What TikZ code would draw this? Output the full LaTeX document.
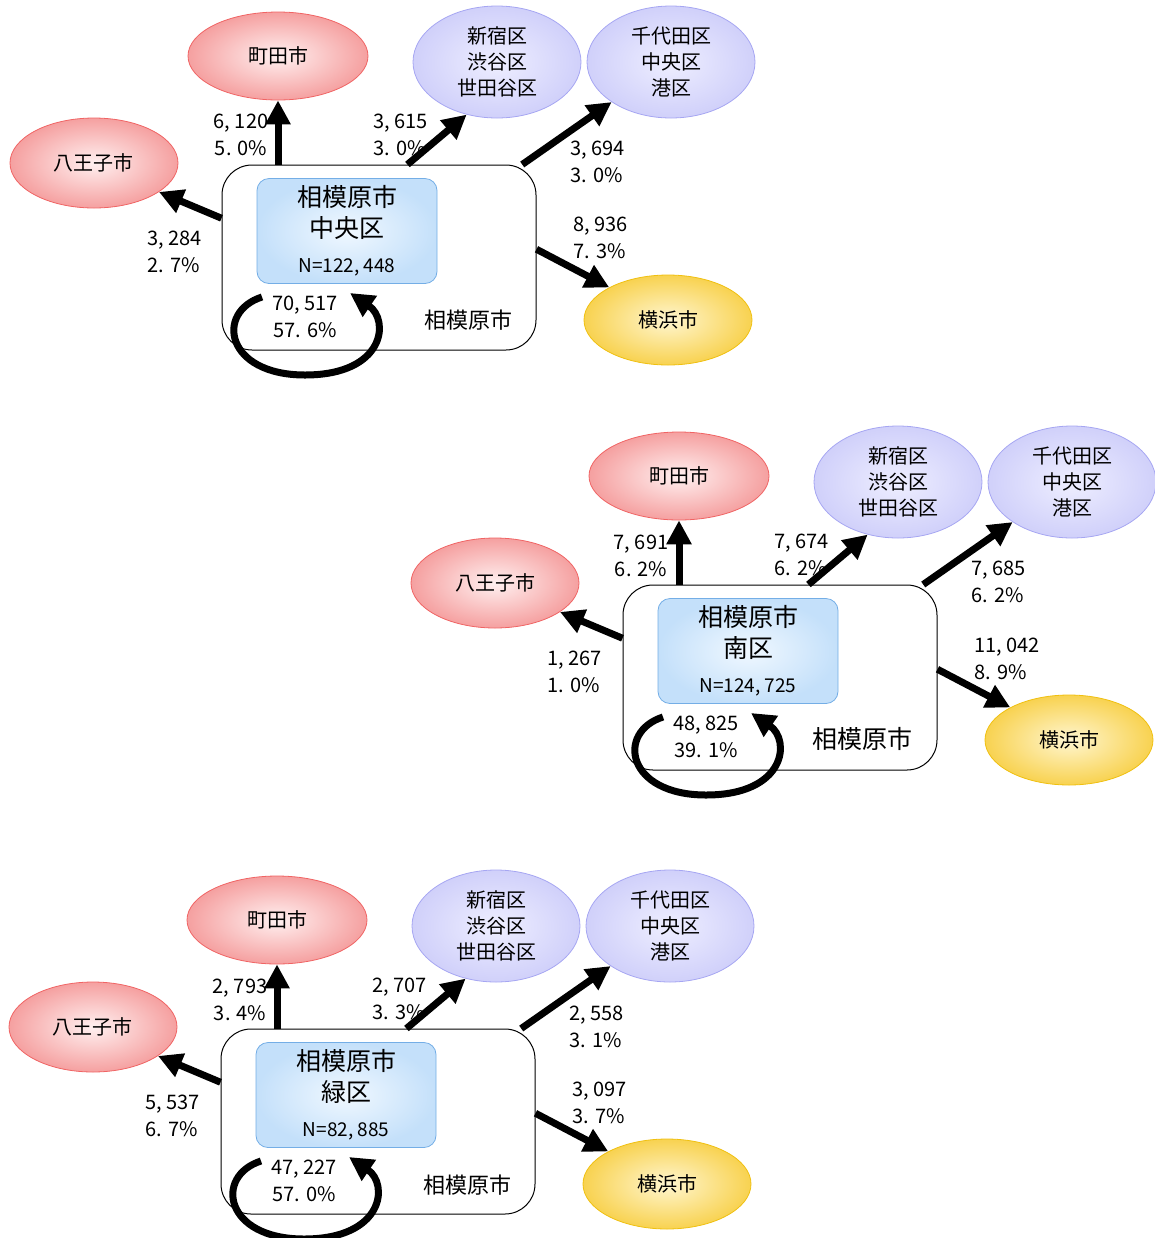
\documentclass[tikz,border=0pt]{standalone}
\usepackage{fontspec}
\setmainfont{Noto Sans CJK JP}
\usetikzlibrary{shapes.geometric,arrows.meta}
\newcommand{\px}{0.5pt}
\definecolor{redfill}{HTML}{F5A0A0}
\definecolor{redcore}{HTML}{FFF0F0}
\definecolor{redline}{HTML}{F06464}
\definecolor{bluefill}{HTML}{D0D0FA}
\definecolor{bluecore}{HTML}{EEEEFF}
\definecolor{blueline}{HTML}{A6A6F2}
\definecolor{yellowfill}{HTML}{F8D250}
\definecolor{yellowcore}{HTML}{FFF6D0}
\definecolor{yellowline}{HTML}{F0C010}
\definecolor{wardfill}{HTML}{C4E0FA}
\definecolor{wardcore}{HTML}{F0F8FF}
\definecolor{wardline}{HTML}{74AEE6}

\begin{document}
\begin{tikzpicture}[x=\px,y=-\px]
\useasboundingbox (0,0) rectangle (1155,1238);
\tikzstyle{redcity}=[ellipse, draw=redline, inner color=redcore, outer color=redfill,
                     minimum width=90pt, minimum height=44pt, inner sep=0pt,
                     font=\fontsize{10}{13}\selectfont]
\tikzstyle{tokyo}=[ellipse, draw=blueline, inner color=bluecore, outer color=bluefill,
                   minimum width=84pt, minimum height=56pt, inner sep=0pt, align=center,
                   font=\fontsize{10}{13}\selectfont]
\tikzstyle{yokocity}=[ellipse, draw=yellowline, inner color=yellowcore, outer color=yellowfill,
                      minimum width=84pt, minimum height=45pt, inner sep=0pt,
                      font=\fontsize{10}{13}\selectfont]
\tikzstyle{townbox}=[draw, rounded corners=15pt, minimum width=157pt, minimum height=92.5pt,
                     line width=0.5pt]
\tikzstyle{wardbox}=[draw=wardline, inner color=wardcore, outer color=wardfill,
                     rounded corners=6pt, minimum width=90pt, minimum height=52.5pt,
                     inner sep=0pt, align=center, font=\fontsize{12.5}{15.5}\selectfont]
\tikzstyle{townlabel}=[font=\fontsize{11}{13}\selectfont, inner sep=0pt]
\tikzstyle{numlabel}=[font=\fontsize{10}{13.5}\selectfont, align=left, anchor=west, inner sep=0pt]
\tikzstyle{uplabel}=[font=\fontsize{10}{13.5}\selectfont, align=center, inner sep=0pt]
\tikzstyle{flow}=[line width=3.5pt, -{Triangle[length=12pt,width=12pt]}]

% 中央区
\begin{scope}
\node[townbox] (outerA) at (379,257.5) {};
\node[wardbox] (wardA) at (347,231) {相模原市\\中央区\\[2pt]\fontsize{9.5}{12}\selectfont N=122, 448};
\node[townlabel] (townA) at (468,320) {相模原市};
\node[redcity] (machidaA) at (278,56) {町田市};
\node[redcity, minimum width=84pt, minimum height=45pt] (hachiojiA) at (94,163) {八王子市};
\node[tokyo] (shinjukuA) at (497,62) {新宿区\\渋谷区\\世田谷区};
\node[tokyo] (chiyodaA) at (671,62) {千代田区\\中央区\\港区};
\node[yokocity] (yokohamaA) at (668,320) {横浜市};
\coordinate (loopinA) at (262,297);
\coordinate (loopoutA) at (350,293);
\draw[flow] (outerA.north -| machidaA) -- (machidaA.south);
\draw[flow] (outerA.73) -- (shinjukuA.240);
\draw[flow] (outerA.33) -- (chiyodaA.214);
\draw[flow] (outerA.166) -- (hachiojiA.-24);
\draw[flow] (outerA.3) -- (yokohamaA.151);
\draw[flow] (loopinA) .. controls (215,312) and (225,375) .. (305,375)
                      .. controls (385,375) and (390,320) .. (loopoutA);
\node[uplabel] (machidanumA) at (241,134.5) {6, 120\\5. 0\%};
\node[numlabel] (shinjukunumA) at (373,134.5) {3, 615\\3. 0\%};
\node[numlabel] (chiyodanumA) at (570,161.5) {3, 694\\3. 0\%};
\node[numlabel] (hachiojinumA) at (147,251.5) {3, 284\\2. 7\%};
\node[numlabel] (yokohamanumA) at (573,238) {8, 936\\7. 3\%};
\node[uplabel] (loopnumA) at (305,316.5) {70, 517\\57. 6\%};
\end{scope}

% 南区
\begin{scope}[shift={(401,420)}]
\node[townbox] (outerB) at (379,257.5) {};
\node[wardbox] (wardB) at (347,231) {相模原市\\南区\\[2pt]\fontsize{9.5}{12}\selectfont N=124, 725};
\node[townlabel, font=\fontsize{12.5}{15}\selectfont] (townB) at (461,319) {相模原市};
\node[redcity] (machidaB) at (278,56) {町田市};
\node[redcity, minimum width=84pt, minimum height=45pt] (hachiojiB) at (94,163) {八王子市};
\node[tokyo] (shinjukuB) at (497,62) {新宿区\\渋谷区\\世田谷区};
\node[tokyo] (chiyodaB) at (671,62) {千代田区\\中央区\\港区};
\node[yokocity] (yokohamaB) at (668,320) {横浜市};
\coordinate (loopinB) at (262,297);
\coordinate (loopoutB) at (350,293);
\draw[flow] (outerB.north -| machidaB) -- (machidaB.south);
\draw[flow] (outerB.73) -- (shinjukuB.240);
\draw[flow] (outerB.33) -- (chiyodaB.214);
\draw[flow] (outerB.166) -- (hachiojiB.-24);
\draw[flow] (outerB.3) -- (yokohamaB.151);
\draw[flow] (loopinB) .. controls (215,312) and (225,375) .. (305,375)
                      .. controls (385,375) and (390,320) .. (loopoutB);
\node[uplabel] (machidanumB) at (240,135.5) {7, 691\\6. 2\%};
\node[numlabel] (shinjukunumB) at (373,135) {7, 674\\6. 2\%};
\node[numlabel] (chiyodanumB) at (570,162) {7, 685\\6. 2\%};
\node[numlabel] (hachiojinumB) at (146,252) {1, 267\\1. 0\%};
\node[numlabel] (yokohamanumB) at (573,238.5) {11, 042\\8. 9\%};
\node[uplabel] (loopnumB) at (305,316.5) {48, 825\\39. 1\%};
\end{scope}

% 緑区
\begin{scope}[shift={(-1,864)}]
\node[townbox] (outerC) at (379,257.5) {};
\node[wardbox] (wardC) at (347,231) {相模原市\\緑区\\[2pt]\fontsize{9.5}{12}\selectfont N=82, 885};
\node[townlabel] (townC) at (468,321) {相模原市};
\node[redcity] (machidaC) at (278,56) {町田市};
\node[redcity, minimum width=84pt, minimum height=45pt] (hachiojiC) at (94,163) {八王子市};
\node[tokyo] (shinjukuC) at (497,62) {新宿区\\渋谷区\\世田谷区};
\node[tokyo] (chiyodaC) at (671,62) {千代田区\\中央区\\港区};
\node[yokocity] (yokohamaC) at (668,320) {横浜市};
\coordinate (loopinC) at (262,297);
\coordinate (loopoutC) at (350,293);
\draw[flow] (outerC.north -| machidaC) -- (machidaC.south);
\draw[flow] (outerC.73) -- (shinjukuC.240);
\draw[flow] (outerC.33) -- (chiyodaC.214);
\draw[flow] (outerC.166) -- (hachiojiC.-24);
\draw[flow] (outerC.3) -- (yokohamaC.151);
\draw[flow] (loopinC) .. controls (215,312) and (225,375) .. (305,375)
                      .. controls (385,375) and (390,320) .. (loopoutC);
\node[uplabel] (machidanumC) at (241,135.5) {2, 793\\3. 4\%};
\node[numlabel] (shinjukunumC) at (373,135) {2, 707\\3. 3\%};
\node[numlabel] (chiyodanumC) at (570,162.5) {2, 558\\3. 1\%};
\node[numlabel] (hachiojinumC) at (146,252) {5, 537\\6. 7\%};
\node[numlabel] (yokohamanumC) at (573,238.5) {3, 097\\3. 7\%};
\node[uplabel] (loopnumC) at (305,317) {47, 227\\57. 0\%};
\end{scope}
\end{tikzpicture}
\end{document}
